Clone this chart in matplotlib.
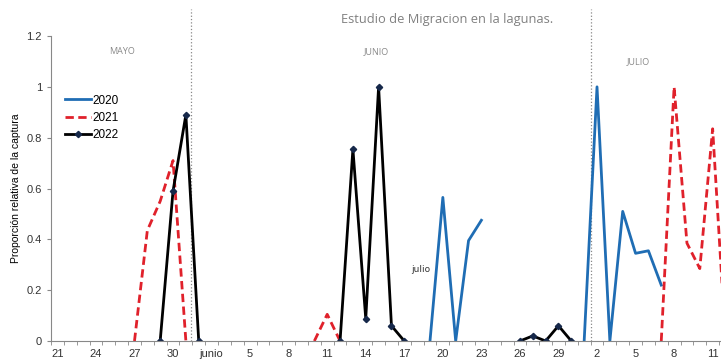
import numpy as np
import matplotlib.pyplot as plt
from matplotlib.ticker import FixedLocator, NullFormatter

nan = np.nan

# --- Day index: 0 = 21 May ... 51 = 11 July ---
tick_pos = list(range(0, 52, 3))
tick_labels = ["21", "24", "27", "30", "junio", "5", "8", "11", "14", "17",
               "20", "23", "26", "29", "2", "5", "8", "11"]

# --- Series (day index -> relative catch proportion) ---
x_2020 = [29, 30, 31, 32, 33, nan, 41, 42, 43, 44, 45, 46, 47]
y_2020 = [0, 0.565, 0, 0.395, 0.475, nan, 0, 1.0, 0, 0.51, 0.345, 0.355, 0.22]

x_2021 = [6, 7, 8, 9, 10, nan, 20, 21, 22, nan, 47, 48, 49, 50, 51, 52]
y_2021 = [0, 0.435, 0.55, 0.71, 0, nan, 0, 0.105, 0, nan, 0, 1.0, 0.385, 0.285, 0.835, 0]

x_2022 = [8, 9, 10, 11, nan, 22, 23, 24, 25, 26, 27, nan, 36, 37, 38, 39, 40]
y_2022 = [0, 0.59, 0.89, 0, nan, 0, 0.755, 0.088, 1.0, 0.06, 0, nan, 0, 0.02, 0, 0.06, 0]

month_breaks = [10.4, 41.5]
month_names = [("MAYO", 5, 1.138), ("JUNIO", 24.8, 1.138), ("JULIO", 45.2, 1.098)]

fig = plt.figure(figsize=(7.21, 3.62), dpi=100)
ax = fig.add_axes([0.0707, 0.058, 0.9293, 0.8425])

ax.plot(x_2020, y_2020, color="#1f6db4", lw=2, label="2020")
ax.plot(x_2021, y_2021, color="#e0212b", lw=2, ls=(0, (3, 1.6)), label="2021")
ax.plot(x_2022, y_2022, color="black", lw=2, marker="D", ms=3.2,
        mfc="#16284a", mec="#16284a", label="2022")

for xb in month_breaks:
    ax.axvline(xb, ymin=0, ymax=1.09, color="#888888", lw=0.9, ls=":",
               clip_on=False, zorder=0)

for name, xm, ym in month_names:
    ax.text(xm, ym, name, fontsize=6.5, color="#8a8a8a", ha="center",
            va="center", family="Open Sans")

ax.text(28.3, 0.28, "julio", fontsize=6.5, color="#333333", ha="center",
        va="center")

fig.text(0.62, 0.945, "Estudio de Migracion en la lagunas.", fontsize=9.3,
         color="#808080", ha="center", va="center", family="Open Sans")

ax.set_xlim(-0.5, 51.65)
ax.set_ylim(0, 1.2)
ax.set_yticks([0, 0.2, 0.4, 0.6, 0.8, 1.0, 1.2])
ax.set_yticklabels(["0", "0.2", "0.4", "0.6", "0.8", "1", "1.2"])
ax.set_xticks(tick_pos)
ax.set_xticklabels(tick_labels)
ax.xaxis.set_minor_locator(FixedLocator(np.arange(-0.5, 52, 1)))
ax.xaxis.set_minor_formatter(NullFormatter())
ax.tick_params(axis="x", which="major", length=0, pad=6)
ax.tick_params(axis="x", which="minor", length=3, color="#888888")
ax.tick_params(axis="y", length=3, color="#888888")
ax.tick_params(labelsize=8, labelcolor="#333333")
for lab in ax.get_xticklabels() + ax.get_yticklabels():
    lab.set_family("Liberation Sans")

ax.spines["top"].set_visible(False)
ax.spines["right"].set_visible(False)
ax.spines["left"].set_color("#888888")
ax.spines["bottom"].set_color("#888888")
ax.spines["left"].set_linewidth(0.8)
ax.spines["bottom"].set_linewidth(0.8)

ax.set_ylabel("Proporción relativa de la captura", fontsize=7.5,
              family="Liberation Sans", labelpad=4)

ax.legend(loc="upper left", bbox_to_anchor=(0.005, 0.843), frameon=False,
          handlelength=2.2, handletextpad=0.15, labelspacing=0.45,
          prop={"family": "Liberation Sans", "size": 8.5})

fig.savefig("out.png", dpi=100)
